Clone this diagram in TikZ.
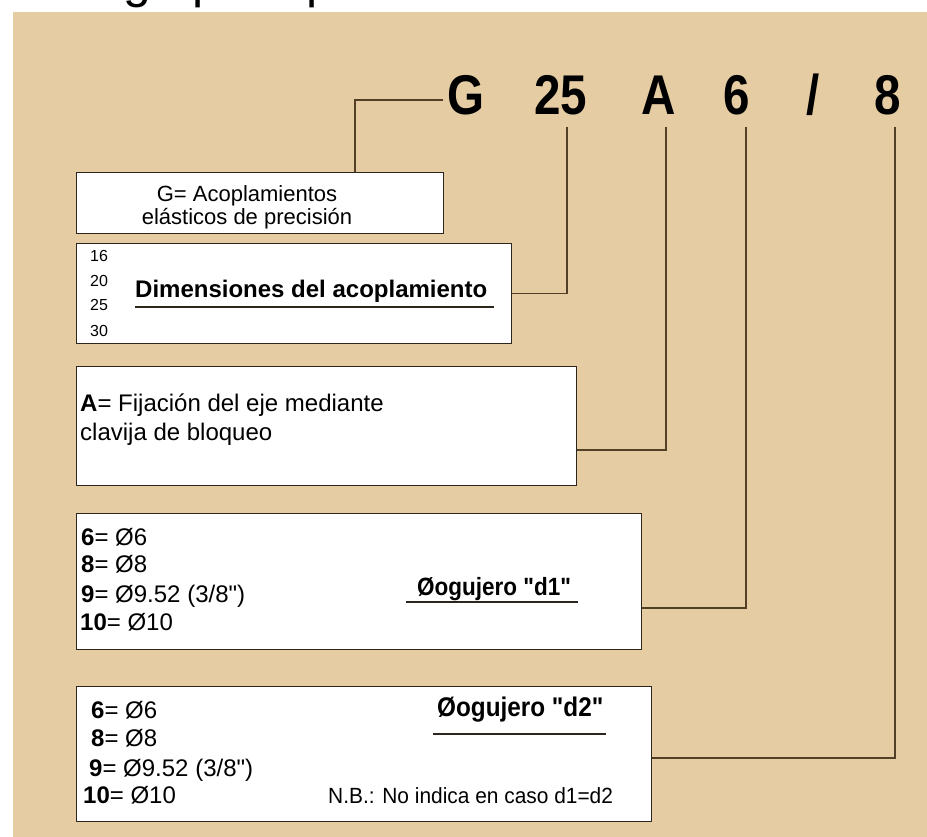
\documentclass[tikz,border=0pt]{standalone}
\usepackage{fontspec}
\setmainfont{Liberation Sans}[Ligatures=TeXOff]
\newfontfamily\codefont[FakeStretch=0.85,Ligatures=TeXOff]{Liberation Sans Bold}
\newfontfamily\condensedbold[FakeStretch=0.9,Ligatures=TeXOff]{Liberation Sans Bold}
\newfontfamily\notefont[FakeStretch=0.95,Ligatures=TeXOff]{Liberation Sans}
\usetikzlibrary{positioning}

\definecolor{panelbeige}{RGB}{229,204,163}
\definecolor{boxline}{RGB}{45,38,28}
\definecolor{leaderbrown}{RGB}{82,64,38}

\begin{document}
\begin{tikzpicture}[x=1pt, y=-1pt,
    code char/.style={font=\fontsize{56}{56}\codefont, inner sep=0pt, anchor=base},
    order box/.style={draw=boxline, fill=white, line width=1.4pt, anchor=north west, inner sep=0pt},
    box text/.style={font=\fontsize{22}{25}\selectfont, inner sep=0pt, anchor=base west},
    bore text/.style={box text, font=\fontsize{24}{24}\selectfont},
    bore title/.style={font=\fontsize{25}{25}\condensedbold, inner sep=0pt, anchor=base west},
    leader/.style={draw=leaderbrown, line width=1.6pt},
    rule line/.style={draw=boxline, line width=1.4pt}]

    \useasboundingbox (0,0) rectangle (927,837);
    \fill[white] (0,0) rectangle (927,837);
    \node[anchor=base west, inner sep=0pt, font=\fontsize{50}{50}\selectfont] (heading) at (20,-2) {Código para pedido};
    \fill[panelbeige] (13,12) rectangle (927,837);

    % order code
    \node[code char] (codeG) at (466,115) {G};
    \node[code char] (code25) at (561,115) {25};
    \node[code char] (codeA) at (659,115) {A};
    \node[code char] (code6) at (737,115) {6};
    \node[code char] (codeslash) at (813,115) {/};
    \node[code char] (code8) at (888,115) {8};

    % boxes
    \node[order box, minimum width=367pt, minimum height=61pt] (genbox) at (76,172) {};
    \node[order box, minimum width=435pt, minimum height=100pt] (dimbox) at (76,243) {};
    \node[order box, minimum width=500pt, minimum height=119pt] (fixbox) at (76,366) {};
    \node[order box, minimum width=565pt, minimum height=136pt] (bore1box) at (76,513) {};
    \node[order box, minimum width=575pt, minimum height=135pt] (bore2box) at (76,686) {};

    % G
    \node[box text, anchor=base] (genline1) at (247,202) {G= Acoplamientos};
    \node[box text, anchor=base] (genline2) at (247,225) {elásticos de precisión};

    % sizes
    \node[box text, font=\fontsize{16}{16}\selectfont] (size16) at (90,262) {16};
    \node[box text, font=\fontsize{16}{16}\selectfont] (size20) at (90,287) {20};
    \node[box text, font=\fontsize{16}{16}\selectfont] (size25) at (90,311) {25};
    \node[box text, font=\fontsize{16}{16}\selectfont] (size30) at (90,336) {30};
    \node[box text, font=\fontsize{24}{24}\selectfont\bfseries] (dimtitle) at (135,298) {Dimensiones del acoplamiento};
    \draw[rule line] ([yshift=-9pt]dimtitle.base west) -- ([xshift=7pt,yshift=-9pt]dimtitle.base east);

    % fixing
    \node[bore text] (fixline1) at (80,411) {\textbf{A}= Fijación del eje mediante};
    \node[bore text] (fixline2) at (80,440) {clavija de bloqueo};

    % bore d1
    \node[bore text] (bore1six) at (81,545) {\textbf{6}= Ø6};
    \node[bore text] (bore1eight) at (81,572) {\textbf{8}= Ø8};
    \node[bore text] (bore1nine) at (81,602) {\textbf{9}= Ø9.52 (3/8")};
    \node[bore text] (bore1ten) at (80,630) {\textbf{10}= Ø10};
    \node[bore title] (bore1title) at (417,595) {Øogujero "d1"};
    \draw[rule line] ([xshift=-11pt,yshift=-7pt]bore1title.base west) -- ([xshift=7pt,yshift=-7pt]bore1title.base east);

    % bore d2
    \node[bore text] (bore2six) at (91,718) {\textbf{6}= Ø6};
    \node[bore text] (bore2eight) at (91,746) {\textbf{8}= Ø8};
    \node[bore text] (bore2nine) at (89,776) {\textbf{9}= Ø9.52 (3/8")};
    \node[bore text] (bore2ten) at (83,803) {\textbf{10}= Ø10};
    \node[bore title, font=\fontsize{27}{27}\condensedbold] (bore2title) at (437,716) {Øogujero "d2"};
    \draw[rule line] ([xshift=-4pt,yshift=-18pt]bore2title.base west) -- ([xshift=2pt,yshift=-18pt]bore2title.base east);
    \node[box text, font=\fontsize{22}{22}\notefont] (bore2note) at (328,803) {N.B.: No indica en caso d1=d2};

    % leaders
    \coordinate (gbend) at (355,100);
    \draw[leader] ([xshift=-4pt]codeG.west |- gbend) -- (gbend) -- (gbend |- genbox.north);
    \draw[leader] ([xshift=6pt,yshift=-12pt]code25.base) |- (dimbox.east);
    \draw[leader] ([xshift=7pt,yshift=-12pt]codeA.base) |- ([yshift=-24pt]fixbox.east);
    \draw[leader] ([xshift=9pt,yshift=-12pt]code6.base) |- ([yshift=-26pt]bore1box.east);
    \draw[leader] ([xshift=7pt,yshift=-12pt]code8.base) |- ([yshift=-4pt]bore2box.east);
\end{tikzpicture}
\end{document}
